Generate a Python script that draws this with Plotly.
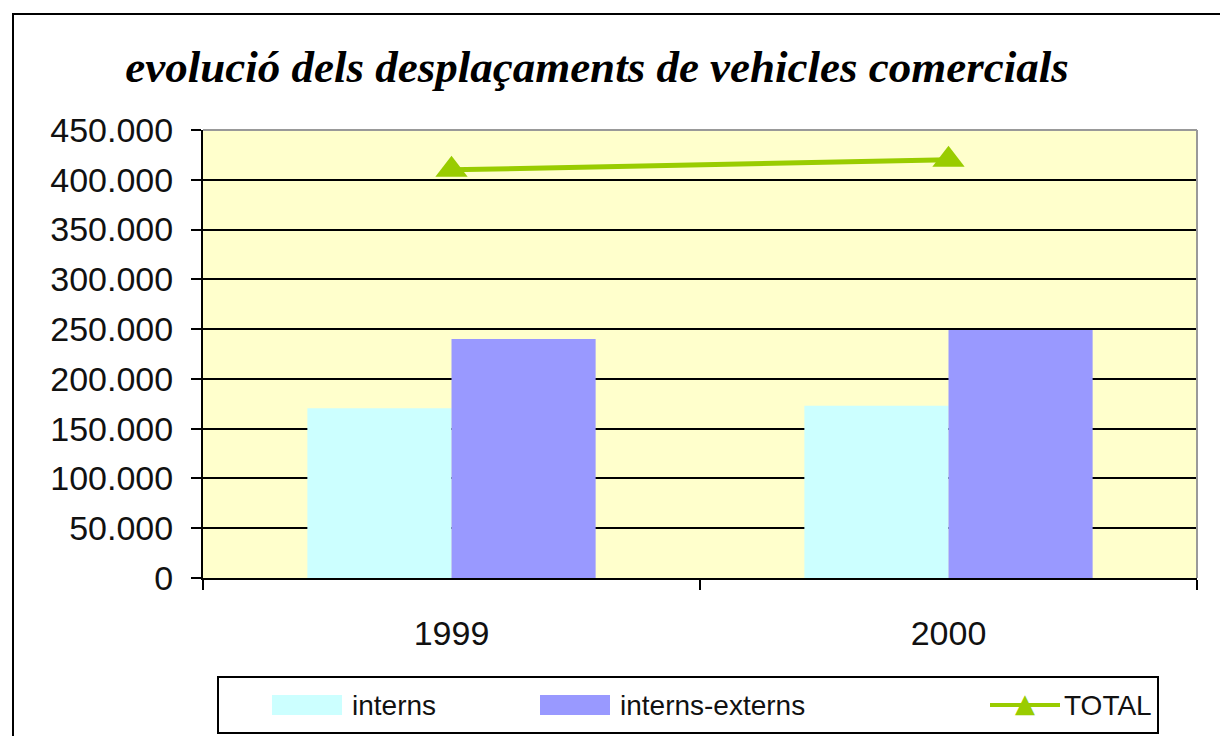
import plotly.graph_objects as go

# ---- data ----
years = ["1999", "2000"]
interns = [170500, 173000]
interns_externs = [240000, 249000]
total = [410000, 420000]
series_names = ["interns", "interns-externs", "TOTAL"]
title_text = "evolució dels desplaçaments de vehicles comercials"

OFF = 8  # page body margin
W, H = 1228 - OFF, 736 - OFF
# plot area in screen pixels
L, R, T, B = 203, 1197, 130, 578

def px(x):
    return (x - L) / (R - L)

def py(y):
    return (B - y) / (B - T)

c_int = "#CCFFFF"
c_ie = "#9999FF"
c_tot = "#99CC00"

fig = go.Figure()
fig.add_trace(go.Bar(x=years, y=interns, name=series_names[0],
                     marker=dict(color=c_int, line=dict(width=0)), showlegend=False))
fig.add_trace(go.Bar(x=years, y=interns_externs, name=series_names[1],
                     marker=dict(color=c_ie, line=dict(width=0)), showlegend=False))
fig.add_trace(go.Scatter(x=years, y=total, name=series_names[2], mode="lines+markers",
                         line=dict(color=c_tot, width=5),
                         marker=dict(symbol="triangle-up", size=28, color=c_tot),
                         showlegend=False))

font_ticks = dict(family="Liberation Sans, Arial, sans-serif", size=34, color="#111111")

shapes = []
# outer frame
shapes.append(dict(type="rect", xref="paper", yref="paper",
                   x0=px(13), x1=px(1240), y0=py(750), y1=py(14),
                   line=dict(color="black", width=2), layer="below"))
# plot area border top/right in gray
shapes.append(dict(type="line", xref="paper", yref="paper", x0=0, x1=1, y0=1, y1=1,
                   line=dict(color="#999999", width=2)))
shapes.append(dict(type="line", xref="paper", yref="paper", x0=1, x1=1, y0=0, y1=1,
                   line=dict(color="#999999", width=2)))
# legend box
shapes.append(dict(type="rect", xref="paper", yref="paper",
                   x0=px(218), x1=px(1158), y0=py(733), y1=py(677),
                   line=dict(color="black", width=2), fillcolor="white", layer="below"))
# legend swatches
ly = 705
shapes.append(dict(type="rect", xref="paper", yref="paper",
                   x0=px(272), x1=px(342), y0=py(715), y1=py(695),
                   line=dict(width=0), fillcolor=c_int))
shapes.append(dict(type="rect", xref="paper", yref="paper",
                   x0=px(540), x1=px(610), y0=py(715), y1=py(695),
                   line=dict(width=0), fillcolor=c_ie))
shapes.append(dict(type="line", xref="paper", yref="paper",
                   x0=px(990), x1=px(1060), y0=py(ly), y1=py(ly),
                   line=dict(color=c_tot, width=4)))

legend_font = dict(family="Liberation Sans, Arial, sans-serif", size=28, color="#111111")
annotations = [
    dict(text=series_names[0], xref="paper", yref="paper", x=px(350), y=py(ly),
         xanchor="left", yanchor="middle", showarrow=False, font=legend_font),
    dict(text=series_names[1], xref="paper", yref="paper", x=px(618), y=py(ly),
         xanchor="left", yanchor="middle", showarrow=False, font=legend_font),
    dict(text=series_names[2], xref="paper", yref="paper", x=px(1062), y=py(ly),
         xanchor="left", yanchor="middle", showarrow=False, font=legend_font),
    dict(text="▲", xref="paper", yref="paper", x=px(1025), y=py(ly - 2),
         xanchor="center", yanchor="middle", showarrow=False,
         font=dict(family="DejaVu Sans", size=26, color=c_tot)),
]

fig.update_layout(
    width=W, height=H,
    margin=dict(l=L - OFF, r=1228 - R, t=T - OFF, b=736 - B, pad=0),
    paper_bgcolor="white",
    plot_bgcolor="#FFFFCC",
    barmode="group",
    bargap=0.42,
    bargroupgap=0,
    separators=",.",
    title=dict(text="<b><i>" + title_text + "</i></b>", x=(597 - OFF) / W, xref="container",
               xanchor="center", y=1 - (66 - OFF) / H, yref="container", yanchor="middle",
               font=dict(family="Liberation Serif, Times New Roman, serif", size=45, color="black")),
    xaxis=dict(type="category", range=[-0.5, 1.5], showline=True, linecolor="black",
               linewidth=2, ticks="outside", tickson="boundaries", ticklen=10,
               tickcolor="black", tickwidth=2, showgrid=False, tickfont=font_ticks,
               ticklabelstandoff=24, zeroline=False),
    yaxis=dict(range=[0, 450000], dtick=50000, tickformat=",d", showline=True,
               linecolor="black", linewidth=2, ticks="outside", ticklen=10,
               tickcolor="black", tickwidth=2, showgrid=True, gridcolor="black",
               gridwidth=2, zeroline=False, tickfont=font_ticks, ticklabelstandoff=11),
    shapes=shapes,
    annotations=annotations,
)

fig.write_html("out.html")
